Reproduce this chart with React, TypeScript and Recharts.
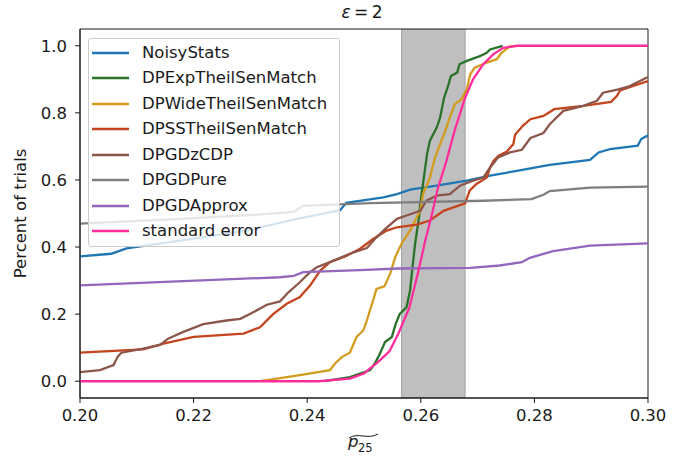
import React from "react";
import { LineChart, Line, XAxis, YAxis, ReferenceArea, Legend } from "recharts";

type Pt = [number, number];

// CDF curves, [p25 estimate, share of trials]
const noisyStats: Pt[] = [
  [0.2, 0.372], [0.2055, 0.38], [0.2082, 0.396], [0.2176, 0.419], [0.2293, 0.449],
  [0.2376, 0.482], [0.2458, 0.51], [0.2469, 0.532], [0.2534, 0.548], [0.2558, 0.558],
  [0.2581, 0.571], [0.2628, 0.583], [0.2681, 0.598], [0.2722, 0.613], [0.2769, 0.627],
  [0.2827, 0.645], [0.2898, 0.66], [0.2913, 0.682], [0.2933, 0.692], [0.2982, 0.702],
  [0.2988, 0.722], [0.3, 0.733],
];

const dpExpTheilSen: Pt[] = [
  [0.243, 0], [0.2475, 0.012], [0.2511, 0.033], [0.2519, 0.053], [0.2528, 0.082],
  [0.2537, 0.117], [0.2549, 0.132], [0.2556, 0.172], [0.2563, 0.201], [0.2575, 0.221],
  [0.2581, 0.27], [0.2586, 0.35], [0.259, 0.41], [0.2597, 0.49], [0.2599, 0.528],
  [0.2603, 0.578], [0.2607, 0.627], [0.2611, 0.677], [0.2616, 0.717], [0.2628, 0.756],
  [0.2634, 0.786], [0.2641, 0.845], [0.2648, 0.88], [0.2653, 0.91], [0.2664, 0.92],
  [0.2668, 0.945], [0.2681, 0.955], [0.2704, 0.969], [0.2716, 0.979], [0.2722, 0.989],
  [0.2744, 1.0],
];

const dpWideTheilSen: Pt[] = [
  [0.2317, 0], [0.2329, 0.003], [0.2387, 0.018], [0.244, 0.033], [0.2449, 0.053],
  [0.2461, 0.072], [0.2475, 0.085], [0.2487, 0.132], [0.2499, 0.152], [0.2505, 0.181],
  [0.2516, 0.241], [0.2522, 0.275], [0.2536, 0.283], [0.2546, 0.32], [0.2555, 0.37],
  [0.2566, 0.41], [0.2581, 0.449], [0.2593, 0.489], [0.2599, 0.508], [0.2604, 0.558],
  [0.2616, 0.607], [0.2625, 0.667], [0.2634, 0.707], [0.2643, 0.746], [0.2651, 0.786],
  [0.266, 0.826], [0.2672, 0.841], [0.2681, 0.87], [0.2687, 0.915], [0.2695, 0.935],
  [0.2716, 0.95], [0.2734, 0.96], [0.2742, 0.979], [0.2757, 0.998], [0.2769, 1.0],
];

const dpSSTheilSen: Pt[] = [
  [0.2, 0.085], [0.2111, 0.095], [0.2147, 0.112], [0.22, 0.132], [0.2288, 0.142],
  [0.2317, 0.161], [0.234, 0.2], [0.2364, 0.231], [0.2387, 0.251], [0.2405, 0.285],
  [0.2423, 0.33], [0.244, 0.355], [0.2467, 0.372], [0.2493, 0.395], [0.2516, 0.424],
  [0.254, 0.449], [0.2558, 0.459], [0.2593, 0.467], [0.2616, 0.479], [0.264, 0.508],
  [0.2678, 0.53], [0.2686, 0.568], [0.2698, 0.588], [0.2716, 0.607], [0.2722, 0.637],
  [0.2728, 0.657], [0.2737, 0.672], [0.2751, 0.684], [0.2763, 0.707], [0.2766, 0.735],
  [0.278, 0.762], [0.2793, 0.781], [0.2816, 0.791], [0.2835, 0.811], [0.2886, 0.821],
  [0.2935, 0.833], [0.2945, 0.85], [0.2951, 0.867], [0.2974, 0.88], [0.3, 0.895],
];

const dpGDzCDP: Pt[] = [
  [0.2, 0.027], [0.2035, 0.033], [0.2059, 0.048], [0.2067, 0.075], [0.2073, 0.085],
  [0.2111, 0.097], [0.2141, 0.108], [0.2155, 0.127], [0.2182, 0.147], [0.2217, 0.17],
  [0.2258, 0.181], [0.2282, 0.186], [0.23, 0.201], [0.2329, 0.228], [0.2352, 0.238],
  [0.2367, 0.265], [0.2387, 0.295], [0.2405, 0.325], [0.2417, 0.34], [0.244, 0.355],
  [0.2475, 0.38], [0.2505, 0.397], [0.2522, 0.429], [0.2538, 0.455], [0.2558, 0.484],
  [0.2575, 0.494], [0.2599, 0.508], [0.261, 0.538], [0.2628, 0.553], [0.2651, 0.558],
  [0.2669, 0.583], [0.2692, 0.598], [0.271, 0.607], [0.2722, 0.637], [0.2736, 0.667],
  [0.2757, 0.682], [0.2778, 0.69], [0.2793, 0.725], [0.2816, 0.74], [0.2827, 0.766],
  [0.2851, 0.806], [0.2886, 0.821], [0.291, 0.836], [0.2921, 0.86], [0.2948, 0.87],
  [0.2968, 0.88], [0.3, 0.907],
];

const dpGDPure: Pt[] = [
  [0.2, 0.47], [0.215, 0.482], [0.23, 0.495], [0.2376, 0.505], [0.2393, 0.523],
  [0.2511, 0.531], [0.271, 0.538], [0.2795, 0.543], [0.2816, 0.556], [0.2827, 0.567],
  [0.2898, 0.577], [0.3, 0.58],
];

const dpGDApprox: Pt[] = [
  [0.2, 0.286], [0.2352, 0.31], [0.2376, 0.314], [0.2393, 0.325], [0.2493, 0.331],
  [0.256, 0.336], [0.2687, 0.338], [0.2739, 0.345], [0.2778, 0.355], [0.2792, 0.368],
  [0.2833, 0.388], [0.2898, 0.404], [0.3, 0.411],
];

const standardError: Pt[] = [
  [0.2, 0], [0.242, 0], [0.2475, 0.008], [0.25, 0.023], [0.2528, 0.062],
  [0.2545, 0.09], [0.256, 0.14], [0.258, 0.22], [0.2596, 0.33], [0.2608, 0.42],
  [0.262, 0.5], [0.263, 0.575], [0.2644, 0.65], [0.266, 0.75], [0.2678, 0.845],
  [0.2692, 0.9], [0.271, 0.945], [0.2728, 0.975], [0.2745, 0.994], [0.277, 1.0],
  [0.3, 1.0],
];

const seriesNames = [
  "NoisyStats",
  "DPExpTheilSenMatch",
  "DPWideTheilSenMatch",
  "DPSSTheilSenMatch",
  "DPGDzCDP",
  "DPGDPure",
  "DPGDApprox",
  "standard error",
];
const seriesColors = [
  "#1f77b4",
  "#2a722a",
  "#d39c1e",
  "#c4441e",
  "#8c564b",
  "#7f7f7f",
  "#9467bd",
  "#ff2d9b",
];
const seriesData = [
  noisyStats, dpExpTheilSen, dpWideTheilSen, dpSSTheilSen,
  dpGDzCDP, dpGDPure, dpGDApprox, standardError,
];

const xTicks = [0.2, 0.22, 0.24, 0.26, 0.28, 0.3];
const yTicks = [0, 0.2, 0.4, 0.6, 0.8, 1.0];
const band = [0.2566, 0.2678];

const FONT = "'DejaVu Sans', sans-serif";
const INK = "#1a1a1a";

const series = seriesNames.map((name, i) => ({
  name,
  color: seriesColors[i],
  points: seriesData[i].map(([x, y]) => ({ x, y })),
}));

const LegendBox = () => (
  <div
    style={{
      width: 252,
      height: 209,
      boxSizing: "border-box",
      border: "1px solid #cccccc",
      borderRadius: 3,
      background: "rgba(255,255,255,0.8)",
      paddingTop: 1,
      fontFamily: FONT,
      fontSize: 16.5,
      color: INK,
    }}
  >
    {series.map((s) => (
      <div key={s.name} style={{ height: 25.5, display: "flex", alignItems: "center" }}>
        <svg width={37} height={8} style={{ marginLeft: 3, marginRight: 13, display: "block" }}>
          <line x1={0} x2={37} y1={4} y2={4} stroke={s.color} strokeWidth={2.4} />
        </svg>
        <span style={{ lineHeight: 1 }}>{s.name}</span>
      </div>
    ))}
  </div>
);

const XLabel = (props: any) => {
  const vb = props.viewBox || { x: 80, y: 398, width: 568 };
  const cx = vb.x + vb.width / 2;
  const top = vb.y;
  return (
    <g fontFamily={FONT} fill={INK}>
      <text x={cx - 16} y={top + 49} fontSize={16.5} fontStyle="italic">
        p
      </text>
      <text x={cx - 6} y={top + 54} fontSize={11.5}>
        25
      </text>
      <path
        d={`M${cx - 15},${top + 40} C${cx - 6},${top + 34} ${cx + 4},${top + 42} ${cx + 14},${top + 36}`}
        fill="none"
        stroke={INK}
        strokeWidth={1}
      />
    </g>
  );
};

const YLabel = (props: any) => {
  const vb = props.viewBox || { y: 29, height: 369 };
  const cy = vb.y + vb.height / 2;
  return (
    <text
      x={20}
      y={cy}
      transform={`rotate(-90 20 ${cy})`}
      textAnchor="middle"
      dominantBaseline="central"
      fontFamily={FONT}
      fontSize={16.5}
      fill={INK}
    >
      Percent of trials
    </text>
  );
};

const tickStyle = { fontFamily: FONT, fontSize: 16.5, fill: INK };

export default function App() {
  return (
    <div style={{ position: "absolute", left: 0, top: 0, width: 694, height: 461, background: "#fff" }}>
      <div
        style={{
          position: "absolute",
          left: 262,
          top: 0,
          width: 200,
          textAlign: "center",
          fontFamily: FONT,
          fontSize: 17,
          lineHeight: "24px",
          color: INK,
          zIndex: 2,
        }}
      >
        <span style={{ fontStyle: "italic" }}>ε</span>
        {"\u2009=\u20092"}
      </div>
      <LineChart width={694} height={461} margin={{ top: 29, right: 46, bottom: 0, left: 0 }}>
        <XAxis
          dataKey="x"
          type="number"
          domain={[0.2, 0.3]}
          ticks={xTicks}
          tickFormatter={(v: number) => v.toFixed(2)}
          allowDataOverflow
          height={63}
          tickSize={5}
          tickMargin={6}
          tick={tickStyle}
          tickLine={{ stroke: INK }}
          axisLine={{ stroke: INK }}
          label={{ content: <XLabel /> }}
        />
        <YAxis
          type="number"
          domain={[-0.05, 1.05]}
          ticks={yTicks}
          tickFormatter={(v: number) => v.toFixed(1)}
          allowDataOverflow
          width={80}
          tickSize={5}
          tickMargin={8}
          tick={tickStyle}
          tickLine={{ stroke: INK }}
          axisLine={{ stroke: INK }}
          label={{ content: <YLabel /> }}
        />
        <ReferenceArea
          x1={band[0]}
          x2={band[1]}
          y1={-0.05}
          y2={1.05}
          fill="#bfbfbf"
          fillOpacity={1}
          stroke="#a3a3a3"
          strokeWidth={1}
          ifOverflow="hidden"
        />
        {/* frame around the plot area (top and right spines) */}
        <ReferenceArea
          x1={0.2}
          x2={0.3}
          y1={-0.05}
          y2={1.05}
          fill="none"
          stroke={INK}
          strokeWidth={1}
          ifOverflow="extendDomain"
        />
        {series.map((s) => (
          <Line
            key={s.name}
            data={s.points}
            dataKey="y"
            name={s.name}
            type="linear"
            stroke={s.color}
            strokeWidth={2.3}
            dot={false}
            activeDot={false}
            isAnimationActive={false}
          />
        ))}
        <Legend
          content={<LegendBox />}
          layout="vertical"
          align="center"
          verticalAlign="middle"
          wrapperStyle={{ position: "absolute", left: 88, top: 38, width: 252, height: 209 }}
        />
      </LineChart>
    </div>
  );
}
